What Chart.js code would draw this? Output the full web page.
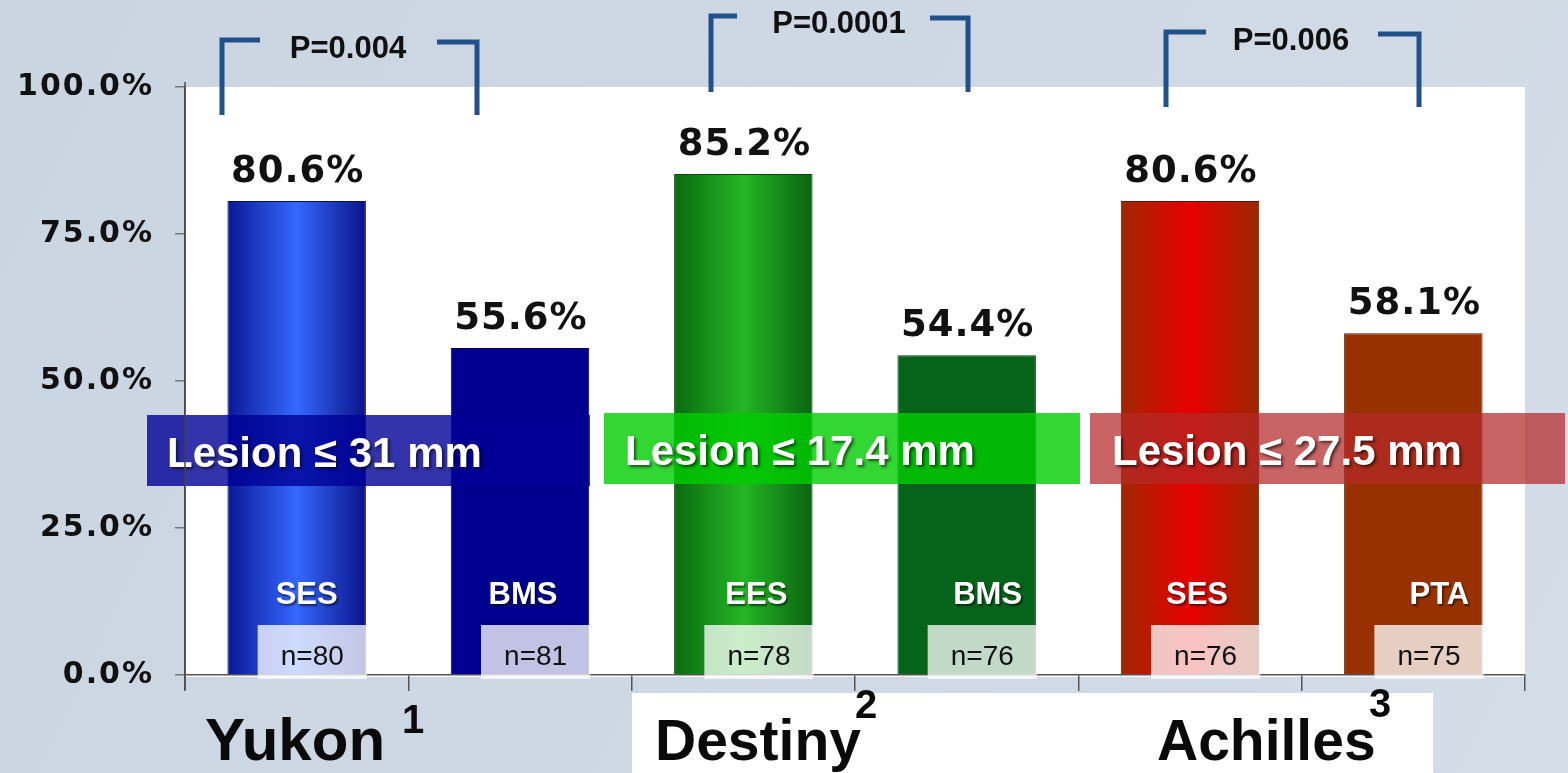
<!DOCTYPE html>
<html>
<head>
<meta charset="utf-8">
<title>Stent trials – primary patency</title>
<script src="https://cdn.jsdelivr.net/npm/chart.js@4.4.1/dist/chart.umd.min.js"></script>
<style>
  html, body { margin: 0; padding: 0; background: #cdd8e4; }
  #wrap { width: 1568px; height: 773px; }
</style>
</head>
<body>
<div id="wrap"><canvas id="c" width="1568" height="773"></canvas></div>
<script>
// ---- data ----
const categories = ['Yukon SES', 'Yukon BMS', 'Destiny EES', 'Destiny BMS', 'Achilles SES', 'Achilles PTA'];
const armLabels = ['SES', 'BMS', 'EES', 'BMS', 'SES', 'PTA'];
const patency = [80.6, 55.6, 85.2, 54.4, 80.6, 58.1];
const sampleSizes = [80, 81, 78, 76, 76, 75];
const studies = ['Yukon', 'Destiny', 'Achilles'];
const studyRefs = ['1', '2', '3'];
const pValues = ['P=0.004', 'P=0.0001', 'P=0.006'];
const lesionLabels = ['Lesion \u2264 31 mm', 'Lesion \u2264 17.4 mm', 'Lesion \u2264 27.5 mm'];
const yTicks = [0, 25, 50, 75, 100];

// ---- styling ----
// left edge, centre, right edge of each bar's horizontal shading
const barShades = [
  ['#0a1896', '#3468ff', '#0a128a'],
  ['#00008e', '#00008e', '#00008e'],
  ['#0a6a10', '#24b624', '#0a6410'],
  ['#05631a', '#05631a', '#05631a'],
  ['#a02800', '#e60000', '#9a2800'],
  ['#973200', '#973200', '#973200']
];
const barEdges = ['#06106a', '#00005a', '#064a0a', '#03420f', '#5a1600', '#5a1e00'];
const bannerFills = ['rgba(0,0,150,0.8)', 'rgba(0,205,0,0.8)', 'rgba(180,40,40,0.72)'];
// horizontal shift of each arm name from its bar centre (px)
const armLabelShift = [10, 3, 13, 21, 7, 26];
const BAR_PCT = 0.62;

function barFill(ctx) {
  const chart = ctx.chart;
  const i = ctx.dataIndex;
  const s = barShades[i];
  if (!chart.chartArea) return s[1];
  const xs = chart.scales.x;
  const cx = xs.getPixelForValue(i);
  const hw = xs.width / categories.length * BAR_PCT / 2;
  const g = chart.ctx.createLinearGradient(cx - hw, 0, cx + hw, 0);
  g.addColorStop(0, s[0]);
  g.addColorStop(0.5, s[1]);
  g.addColorStop(1, s[2]);
  return g;
}

const backdrop = {
  id: 'backdrop',
  beforeDraw(chart) {
    const { ctx, width, height, chartArea: a } = chart;
    ctx.save();
    const g = ctx.createLinearGradient(0, 0, width, height);
    g.addColorStop(0, '#cad5e2');
    g.addColorStop(1, '#d3dce7');
    ctx.fillStyle = g;
    ctx.fillRect(0, 0, width, height);
    ctx.fillStyle = '#ffffff';
    ctx.fillRect(a.left, a.top, a.right - a.left, a.bottom - a.top + 2);
    ctx.restore();
    // wider tracking for the axis tick labels drawn next
    ctx.letterSpacing = '2px';
  },
  beforeDatasetsDraw(chart) {
    chart.ctx.letterSpacing = '0px';
  },
  afterDraw(chart) {
    const { ctx, chartArea: a } = chart;
    // extended vertical axis line
    ctx.save();
    ctx.strokeStyle = '#4a4a4a';
    ctx.lineWidth = 1.5;
    ctx.beginPath();
    ctx.moveTo(a.left, a.top - 5);
    ctx.lineTo(a.left, a.bottom + 15);
    ctx.stroke();
    ctx.restore();
  }
};

const barAnnotations = {
  id: 'barAnnotations',
  afterDatasetsDraw(chart) {
    const { ctx } = chart;
    const bars = chart.getDatasetMeta(0).data;
    ctx.save();
    bars.forEach((bar, i) => {
      const right = bar.x + bar.width / 2;
      // value above the bar
      ctx.fillStyle = '#111111';
      ctx.font = 'bold 37px "DejaVu Sans"';
      ctx.letterSpacing = '1px';
      ctx.textAlign = 'center';
      ctx.textBaseline = 'alphabetic';
      ctx.fillText(patency[i].toFixed(1) + '%', bar.x + 1, bar.y - 19);
      ctx.letterSpacing = '0px';

      // sample size box
      const bx = bar.x - 39, bw = right + 1 - bx;
      ctx.fillStyle = 'rgba(255,255,255,0.76)';
      ctx.fillRect(bx, 625, bw, 54);
      ctx.fillStyle = '#111111';
      ctx.font = '28px "Liberation Sans"';
      ctx.fillText('n=' + sampleSizes[i], bx + bw / 2, 665);

      // arm name
      ctx.save();
      ctx.shadowColor = 'rgba(0,0,0,0.55)';
      ctx.shadowOffsetX = 1.5;
      ctx.shadowOffsetY = 1.5;
      ctx.shadowBlur = 2;
      ctx.fillStyle = '#ffffff';
      ctx.font = 'bold 31px "Liberation Sans"';
      ctx.fillText(armLabels[i], bar.x + armLabelShift[i], 604);
      ctx.restore();
    });

    // lesion-length banners across each trial
    const banners = [
      { l: 147, r: 590, t: 415, b: 486, tx: 167, ty: 467 },
      { l: 604, r: 1080, t: 413, b: 484, tx: 625, ty: 465 },
      { l: 1090, r: 1565, t: 413, b: 484, tx: 1112, ty: 465 }
    ];
    banners.forEach((bn, k) => {
      ctx.fillStyle = bannerFills[k];
      ctx.fillRect(bn.l, bn.t, bn.r - bn.l, bn.b - bn.t);
      ctx.save();
      ctx.shadowColor = 'rgba(0,0,0,0.6)';
      ctx.shadowOffsetX = 2;
      ctx.shadowOffsetY = 2;
      ctx.shadowBlur = 3;
      ctx.fillStyle = '#ffffff';
      ctx.font = 'bold 42px "Liberation Sans"';
      ctx.textAlign = 'left';
      ctx.fillText(lesionLabels[k], bn.tx, bn.ty);
      ctx.restore();
    });
    ctx.restore();
  },
  afterDraw(chart) {
    const { ctx } = chart;
    ctx.save();
    // significance brackets
    const brackets = [
      { x1: 222, x2: 477, yl: 40, yr: 42, bot: 115, hl: 38, hr: 40, tx: 348, ty: 58 },
      { x1: 711, x2: 968, yl: 16, yr: 18, bot: 92, hl: 26, hr: 38, tx: 839, ty: 33 },
      { x1: 1166, x2: 1419, yl: 32, yr: 34, bot: 107, hl: 40, hr: 41, tx: 1291, ty: 50 }
    ];
    brackets.forEach((br, k) => {
      ctx.strokeStyle = '#22508a';
      ctx.lineWidth = 5;
      ctx.lineCap = 'butt';
      ctx.lineJoin = 'miter';
      ctx.beginPath();
      ctx.moveTo(br.x1, br.bot);
      ctx.lineTo(br.x1, br.yl);
      ctx.lineTo(br.x1 + br.hl, br.yl);
      ctx.stroke();
      ctx.beginPath();
      ctx.moveTo(br.x2 - br.hr, br.yr);
      ctx.lineTo(br.x2, br.yr);
      ctx.lineTo(br.x2, br.bot);
      ctx.stroke();
      ctx.fillStyle = '#111111';
      ctx.font = 'bold 31px "Liberation Sans"';
      ctx.textAlign = 'center';
      ctx.fillText(pValues[k], br.tx, br.ty);
    });

    // trial names with reference numbers
    ctx.fillStyle = '#ffffff';
    ctx.fillRect(632, 693, 801, 80);
    const names = [
      { x: 205, y: 760, size: 60, sx: 402, sy: 733 },
      { x: 655, y: 760, size: 57, sx: 855, sy: 718 },
      { x: 1157, y: 760, size: 57, sx: 1369, sy: 717 }
    ];
    names.forEach((n, k) => {
      ctx.fillStyle = '#0a0a0a';
      ctx.textAlign = 'left';
      ctx.font = 'bold ' + n.size + 'px "Liberation Sans"';
      ctx.fillText(studies[k], n.x, n.y);
      ctx.font = 'bold 40px "Liberation Sans"';
      ctx.fillText(studyRefs[k], n.sx, n.sy);
    });
    ctx.restore();
  }
};

new Chart(document.getElementById('c'), {
  type: 'bar',
  data: {
    labels: categories,
    datasets: [{
      data: patency,
      backgroundColor: barFill,
      borderColor: barEdges,
      borderWidth: 1,
      barPercentage: BAR_PCT,
      categoryPercentage: 1
    }]
  },
  options: {
    responsive: false,
    devicePixelRatio: 1,
    animation: false,
    layout: { padding: { top: 87, right: 43, bottom: 0, left: 0 } },
    plugins: { legend: { display: false }, tooltip: { enabled: false } },
    scales: {
      x: {
        ticks: { display: false },
        grid: { drawOnChartArea: false, tickLength: 16, color: '#555555', lineWidth: 1.5, offset: true },
        border: { display: true, color: '#555555', width: 1.5 },
        afterFit(s) { s.height = 98; }
      },
      y: {
        min: 0,
        max: 100,
        afterBuildTicks(s) { s.ticks = yTicks.map(v => ({ value: v })); },
        ticks: {
          padding: 21,
          color: '#111111',
          font: { family: 'DejaVu Sans', weight: 'bold', size: 30 },
          callback: v => v.toFixed(1) + '%'
        },
        grid: { drawOnChartArea: false, tickLength: 10, color: '#777777', lineWidth: 1.5 },
        border: { display: true, color: '#4a4a4a', width: 1.5 },
        afterFit(s) { s.width = 185; }
      }
    }
  },
  plugins: [backdrop, barAnnotations]
});
</script>
</body>
</html>
